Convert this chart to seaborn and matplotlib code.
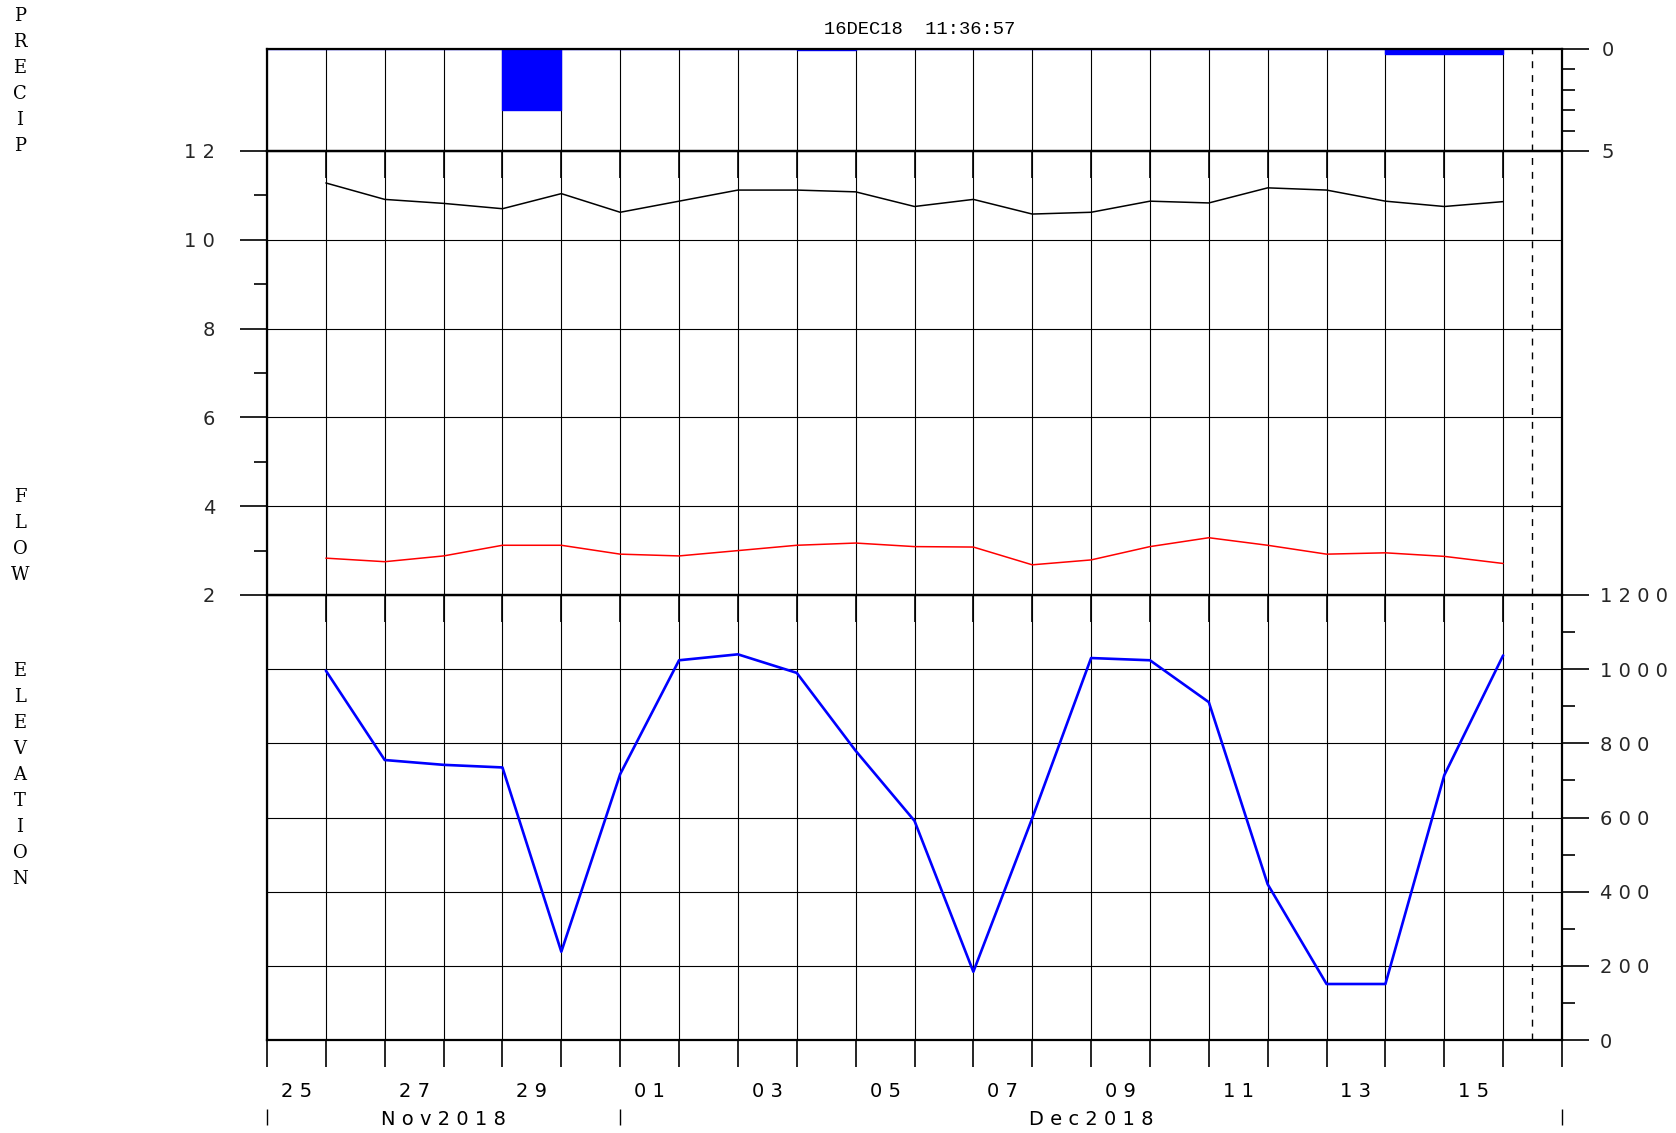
import datetime as dt
import pandas as pd
import seaborn as sns
import matplotlib
matplotlib.use("Agg")
from matplotlib import pyplot as plt
import matplotlib.dates as mdates
from matplotlib.ticker import MultipleLocator, FixedLocator, FuncFormatter, NullFormatter

sns.set_theme(style="white")
plt.rcParams["font.family"] = ["DejaVu Sans"]

# daily values, stamped at 2400 of the previous day (26Nov = 25Nov2018 2400)
days = pd.date_range("2018-11-26", "2018-12-16", freq="D")
precip = [0, 0, 0, 0, 3.0, 0, 0, 0, 0, 0.04, 0,
          0, 0, 0, 0, 0, 0, 0, 0, 0.24, 0.24]
flow_black = [11.28, 10.91, 10.82, 10.70, 11.04, 10.62, 10.87, 11.12, 11.12, 11.08, 10.75,
              10.91, 10.58, 10.62, 10.87, 10.83, 11.17, 11.12, 10.87, 10.75, 10.86]
flow_red = [2.83, 2.75, 2.88, 3.12, 3.12, 2.92, 2.88, 3.00, 3.12, 3.17, 3.09,
            3.08, 2.68, 2.79, 3.09, 3.29, 3.12, 2.92, 2.95, 2.87, 2.71]
elevation = [996, 755, 742, 735, 238, 717, 1024, 1040, 990, 780, 591,
             184, 598, 1030, 1024, 911, 420, 151, 151, 714, 1037]

start = dt.datetime(2018, 11, 25)
end = dt.datetime(2018, 12, 17)
now = dt.datetime(2018, 12, 16, 11, 36, 57)
months = [("Nov2018", dt.datetime(2018, 11, 25), dt.datetime(2018, 12, 1)),
          ("Dec2018", dt.datetime(2018, 12, 1), dt.datetime(2018, 12, 17))]

df = pd.DataFrame({"date": days, "precip": precip, "black": flow_black,
                   "red": flow_red, "elev": elevation})


def spaced(s):
    return " ".join(s)


W, H = 1676, 1133
fig = plt.figure(figsize=(W / 100, H / 100), dpi=100, facecolor="white")
L, WD = 267 / W, 1295 / W
ax_p = fig.add_axes([L, 1 - 151 / H, WD, 102 / H])
ax_f = fig.add_axes([L, 1 - 595 / H, WD, 444 / H], sharex=ax_p)
ax_e = fig.add_axes([L, 1 - 1040 / H, WD, 445 / H], sharex=ax_p)

# precip bars cover the day before each stamp
ax_p.bar(mdates.date2num(df["date"] - pd.Timedelta(days=1)), df["precip"], width=1,
         align="edge", color="blue", edgecolor="blue", linewidth=1)
sns.lineplot(data=df, x="date", y="black", ax=ax_f, color="black", linewidth=1.1)
sns.lineplot(data=df, x="date", y="red", ax=ax_f, color="red", linewidth=1.1)
sns.lineplot(data=df, x="date", y="elev", ax=ax_e, color="blue", linewidth=1.9)

tick_len = 19.4
for ax in (ax_p, ax_f, ax_e):
    ax.set_xlabel("")
    ax.set_ylabel("")
    ax.patch.set_alpha(0)
    for sp in ax.spines.values():
        sp.set_color("black")
        sp.set_linewidth(1.6)
    ax.axvline(now, color="black", lw=1, ls=(0, (5, 5)))
    ax.grid(False)

ax_p.set_xlim(start, end)
ax_e.xaxis.set_major_locator(mdates.DayLocator())
ax_e.xaxis.set_major_formatter(NullFormatter())
odd_days = [d for d in pd.date_range(start, end - dt.timedelta(days=1), freq="D") if d.day % 2 == 1]
ax_e.xaxis.set_minor_locator(FixedLocator(mdates.date2num([d + pd.Timedelta(hours=12) for d in odd_days])))
ax_e.xaxis.set_minor_formatter(FuncFormatter(lambda v, p: spaced(mdates.num2date(v).strftime("%d"))))

for ax in (ax_p, ax_f, ax_e):
    ax.grid(True, axis="x", which="major", color="black", lw=0.8)
    ax.tick_params(axis="x", which="major", bottom=True, top=False, direction="out",
                   length=tick_len, width=1.2, color="black", labelbottom=False)
    ax.tick_params(axis="x", which="minor", bottom=False, top=False, length=0, labelbottom=False)
ax_e.tick_params(axis="x", which="minor", labelbottom=True, pad=30, labelsize=14, colors="black")

# precip: inverted, right axis
ax_p.set_ylim(5, 0)
ax_p.yaxis.set_major_locator(FixedLocator([0, 5]))
ax_p.yaxis.set_minor_locator(MultipleLocator(1))
ax_p.yaxis.set_major_formatter(FuncFormatter(lambda v, p: spaced(str(int(v)))))
ax_p.tick_params(axis="y", which="both", left=False, labelleft=False, right=True,
                 labelright=True, direction="out", color="black", width=1.2)
ax_p.tick_params(axis="y", which="major", length=tick_len, pad=9, labelsize=14)
ax_p.tick_params(axis="y", which="minor", length=9.4)

# flow: left axis
ax_f.set_ylim(2, 12)
ax_f.yaxis.set_major_locator(MultipleLocator(2))
ax_f.yaxis.set_minor_locator(MultipleLocator(1))
ax_f.yaxis.set_major_formatter(FuncFormatter(lambda v, p: spaced(str(int(v)))))
ax_f.grid(True, axis="y", which="major", color="black", lw=0.8)
ax_f.tick_params(axis="y", which="both", left=True, right=False, direction="out",
                 color="black", width=1.2)
ax_f.tick_params(axis="y", which="major", length=tick_len, pad=18, labelsize=14)
ax_f.tick_params(axis="y", which="minor", length=9.4)

# elevation: right axis
ax_e.set_ylim(0, 1200)
ax_e.yaxis.set_major_locator(MultipleLocator(200))
ax_e.yaxis.set_minor_locator(MultipleLocator(100))
ax_e.yaxis.set_major_formatter(FuncFormatter(lambda v, p: spaced(str(int(v)))))
ax_e.grid(True, axis="y", which="major", color="black", lw=0.8)
ax_e.tick_params(axis="y", which="both", left=False, labelleft=False, right=True,
                 labelright=True, direction="out", color="black", width=1.2)
ax_e.tick_params(axis="y", which="major", length=tick_len, pad=8, labelsize=14)
ax_e.tick_params(axis="y", which="minor", length=9.4)

# month row
xt = ax_e.get_xaxis_transform()
for name, m0, m1 in months:
    ax_e.text(m0 + (m1 - m0) / 2, -0.1785, spaced(name), transform=xt,
              ha="center", va="center", fontsize=14, color="black")
ax_e.vlines([m[1] for m in months] + [end], -0.191, -0.155, transform=xt,
            color="black", lw=1, clip_on=False)

# stacked side labels
for word, y0 in (("PRECIP", 16), ("FLOW", 497), ("ELEVATION", 671)):
    for i, ch in enumerate(word):
        fig.text(20 / W, 1 - (y0 + i * 26) / H, ch, ha="center", va="center",
                 fontsize=13, family="DejaVu Serif", color="black")

fig.text(920 / W, 1 - 29 / H, "16DEC18  11:36:57", ha="center", va="center",
         fontsize=13.5, family="Liberation Mono", color="black")

fig.savefig("out.png", dpi=100, facecolor="white")
